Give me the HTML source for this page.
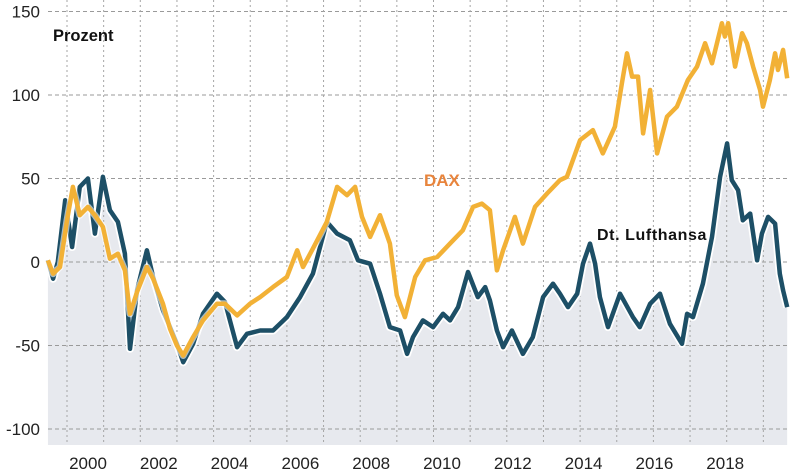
<!DOCTYPE html>
<html><head><meta charset="utf-8">
<style>
html,body{margin:0;padding:0;background:#fff;}
svg{display:block;font-family:"Liberation Sans",sans-serif;}
</style></head>
<body>
<svg id="chart" width="803" height="472" viewBox="0 0 803 472" xmlns="http://www.w3.org/2000/svg">
<g id="fillL"></g><g id="grid"></g><g id="lines"></g><g id="labels"></g>
</svg>
<script>
const yTicks = [150,100,50,0,-50,-100];
const xTickLabels = ['2000','2002','2004','2006','2008','2010','2012','2014','2016','2018'];
const gridYears = [2000,2001,2002,2003,2004,2005,2006,2007,2008,2009,2010,2011,2012,2013,2014,2015,2016,2017,2018,2019];
const lhDates = [1999.48,1999.62,1999.75,1999.95,2000.14,2000.35,2000.57,2000.76,2000.98,2001.17,2001.39,2001.58,2001.72,2001.91,2002.18,2002.35,2002.62,2002.81,2003.00,2003.17,2003.44,2003.71,2004.09,2004.31,2004.64,2004.91,2005.27,2005.62,2006.00,2006.36,2006.71,2007.09,2007.37,2007.72,2007.94,2008.27,2008.54,2008.81,2009.09,2009.28,2009.44,2009.71,2009.99,2010.26,2010.45,2010.67,2010.94,2011.21,2011.41,2011.54,2011.73,2011.90,2012.14,2012.44,2012.71,2012.99,2013.26,2013.45,2013.67,2013.92,2014.08,2014.27,2014.41,2014.54,2014.76,2015.09,2015.44,2015.63,2015.91,2016.18,2016.45,2016.78,2016.92,2017.08,2017.35,2017.60,2017.82,2018.01,2018.14,2018.31,2018.44,2018.64,2018.83,2018.96,2019.13,2019.32,2019.45,2019.54,2019.65];
const lhValues = [1,-10,0,37,9,45,50,17,51,31,24,5,-52,-17,7,-9,-29,-39,-49,-60,-49,-31,-19,-24,-51,-43,-41,-41,-33,-21,-7,24,17,13,1,-1,-19,-39,-41,-55,-45,-35,-39,-31,-35,-27,-6,-21,-15,-23,-41,-51,-41,-55,-45,-21,-13,-19,-27,-19,-1,11,-1,-21,-39,-19,-33,-39,-25,-19,-37,-49,-31,-33,-13,15,51,71,49,43,25,29,1,17,27,23,-7,-17,-27];
const daxDates = [1999.48,1999.62,1999.81,2000.00,2000.16,2000.35,2000.57,2000.76,2000.98,2001.17,2001.39,2001.58,2001.72,2001.91,2002.18,2002.35,2002.62,2002.81,2003.00,2003.17,2003.44,2003.71,2004.09,2004.31,2004.64,2004.99,2005.27,2005.62,2006.00,2006.28,2006.44,2006.71,2007.09,2007.37,2007.64,2007.86,2008.05,2008.27,2008.54,2008.81,2009.00,2009.22,2009.50,2009.77,2010.10,2010.45,2010.80,2011.08,2011.32,2011.54,2011.73,2011.90,2012.22,2012.44,2012.77,2013.10,2013.45,2013.64,2014.00,2014.35,2014.62,2014.95,2015.14,2015.28,2015.42,2015.58,2015.72,2015.91,2016.10,2016.37,2016.64,2016.94,2017.19,2017.41,2017.60,2017.87,2017.95,2018.04,2018.23,2018.42,2018.55,2018.72,2018.91,2018.99,2019.18,2019.32,2019.40,2019.54,2019.65];
const daxValues = [1,-7,-3,25,45,28,33,28,21,2,5,-5,-31,-18,-3,-10,-25,-40,-50,-56,-45,-35,-25,-25,-32,-25,-21,-15,-9,7,-3,8,24,45,40,45,27,15,28,11,-20,-33,-9,1,3,11,19,33,35,31,-5,7,27,11,33,41,49,51,73,79,65,81,107,125,111,111,77,103,65,87,93,109,117,131,119,143,135,143,117,137,131,117,103,93,109,125,115,127,110];

const X0 = 67, XS = 36.65, Y0 = 262, YS = 83.5/50;
const PL = 48, PR = 790, PT = 0, PB = 445;
const xs = t => X0 + (t - 2000) * XS;
const ys = v => Y0 - v * YS;
const NS = 'http://www.w3.org/2000/svg';
function mk(tag, parent, attrs){const e=document.createElementNS(NS,tag);for(const k in attrs)e.setAttribute(k,attrs[k]);document.getElementById(parent).appendChild(e);return e;}

let d = 'M' + xs(lhDates[0]) + ',' + PB;
lhDates.forEach((t,i)=>{ d += ' L' + xs(t).toFixed(1) + ',' + ys(lhValues[i]).toFixed(1); });
d += ' L' + xs(lhDates[lhDates.length-1]) + ',' + PB + ' Z';
const area = mk('path','fillL',{d:d,fill:'#e7e9ee'});



yTicks.forEach(v=>{
  const l = mk('line','grid',{x1:PL,x2:PR,y1:ys(v),y2:ys(v),stroke:'#9a9a9a','stroke-width':1,'stroke-dasharray':'4,3'});
  
  
  const t = mk('text','labels',{x:40,y:ys(v)+6,'text-anchor':'end','font-size':17,fill:'#222'});
  t.textContent = v;
  
  
});
gridYears.forEach(yr=>{
  const l = mk('line','grid',{x1:xs(yr),x2:xs(yr),y1:PT,y2:PB,stroke:'#a5a5a5','stroke-width':1,'stroke-dasharray':'2,3'});
  
  
});
xTickLabels.forEach((s,i)=>{
  const t = mk('text','labels',{x:88 + i*70.8,y:469,'text-anchor':'middle','font-size':17,fill:'#222'});
  t.textContent = s;
  
  
});

function linePath(dates, vals){return dates.map((t,i)=>(i?'L':'M')+xs(t).toFixed(1)+','+ys(vals[i]).toFixed(1)).join(' ');}
const lp = linePath(lhDates, lhValues), dp = linePath(daxDates, daxValues);
const w1 = mk('path','lines',{d:lp,fill:'none',stroke:'#fff','stroke-width':8,'stroke-linejoin':'round'});


const l1 = mk('path','lines',{d:lp,fill:'none',stroke:'#1d4f66','stroke-width':4.5,'stroke-linejoin':'round'});


const w2 = mk('path','lines',{d:dp,fill:'none',stroke:'#fff','stroke-width':7,'stroke-linejoin':'round','opacity':0.6});


const l2 = mk('path','lines',{d:dp,fill:'none',stroke:'#f2b136','stroke-width':4.5,'stroke-linejoin':'round'});


</script>
<script>
(function(){
const g=document.getElementById('labels');
function txt(x,y,s,fill,size,ls){const t=document.createElementNS('http://www.w3.org/2000/svg','text');t.setAttribute('x',x);t.setAttribute('y',y);t.setAttribute('font-size',size);t.setAttribute('font-weight','bold');t.setAttribute('fill',fill);if(ls)t.setAttribute('letter-spacing',ls);t.textContent=s;g.appendChild(t);return t;}
const a=txt(53,41,'Prozent','#111',16.5,0);


const b=txt(424,186,'DAX','#e8843c',17,0);


const c=txt(597,240,'Dt. Lufthansa','#111',16,0.6);


})();
</script>
</body></html>
